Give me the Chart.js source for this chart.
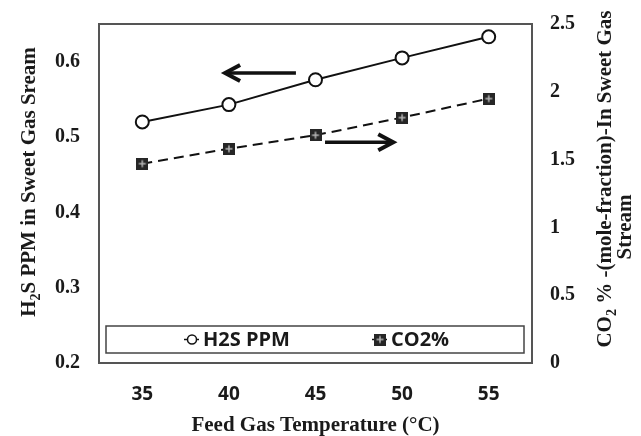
<!DOCTYPE html>
<html>
<head>
<meta charset="utf-8">
<script src="https://cdn.jsdelivr.net/npm/chart.js@4.4.1/dist/chart.umd.min.js"></script>
<style>
  html, body { margin: 0; padding: 0; background: #fff; }
  #wrap { width: 641px; height: 436px; }
</style>
</head>
<body>
<div id="wrap"><canvas id="grafico"></canvas></div>
<script>
// dados
const temperaturas = ['35', '40', '45', '50', '55'];
const h2sPpm = [0.520, 0.543, 0.576, 0.605, 0.633];
const co2Pct = [1.47, 1.58, 1.68, 1.81, 1.95];
const ticksH2s = [0.2, 0.3, 0.4, 0.5, 0.6];
const ticksCo2 = [0, 0.5, 1, 1.5, 2, 2.5];

// setas (temperatura, valor no eixo)
const setas = [
  { de: [43.87, 0.585], ate: [39.78, 0.585], eixo: 'y' },
  { de: [45.55, 1.628], ate: [49.49, 1.628], eixo: 'y1' }
];

const SERIF = '"Liberation Serif", "Times New Roman", serif';
const SANS = '"Open Sans", sans-serif';
const COR_TEXTO = '#1a1a1a';

function marcadorQuadrado() {
  const c = document.createElement('canvas');
  c.width = 12; c.height = 12;
  const g = c.getContext('2d');
  g.fillStyle = '#262626';
  g.fillRect(0, 0, 12, 12);
  g.strokeStyle = '#b5b5b5';
  g.lineWidth = 1.5;
  g.beginPath();
  g.moveTo(6, 2.5); g.lineTo(6, 9.5);
  g.moveTo(2.5, 6); g.lineTo(9.5, 6);
  g.stroke();
  return c;
}
const quadrado = marcadorQuadrado();

// texto com subscrito, centrado em (x, y)
function textoRico(ctx, partes, x, y, rot) {
  const fonte = sub => `bold ${sub ? 14 : 21}px ${SERIF}`;
  ctx.save();
  ctx.translate(x, y);
  ctx.rotate(rot);
  ctx.fillStyle = COR_TEXTO;
  ctx.textAlign = 'left';
  ctx.textBaseline = 'middle';
  let total = 0;
  partes.forEach(p => { ctx.font = fonte(p[1]); total += ctx.measureText(p[0]).width; });
  let cx = -total / 2;
  partes.forEach(p => {
    ctx.font = fonte(p[1]);
    ctx.fillText(p[0], cx, p[1] ? 6 : 0);
    cx += ctx.measureText(p[0]).width;
  });
  ctx.restore();
}

function seta(ctx, x1, y1, x2, y2) {
  const dir = Math.sign(x2 - x1);
  ctx.save();
  ctx.strokeStyle = '#111';
  ctx.lineWidth = 3.5;
  ctx.beginPath();
  ctx.moveTo(x1, y1);
  ctx.lineTo(x2 - dir * 2, y2);
  ctx.stroke();
  ctx.lineWidth = 4;
  ctx.lineJoin = 'miter';
  ctx.beginPath();
  ctx.moveTo(x2 - dir * 15, y2 - 8);
  ctx.lineTo(x2, y2);
  ctx.lineTo(x2 - dir * 15, y2 + 8);
  ctx.stroke();
  ctx.restore();
}

const moldura = {
  id: 'moldura',
  beforeDatasetsDraw(chart) {
    const { ctx, chartArea: a } = chart;
    ctx.save();
    ctx.strokeStyle = '#555';
    ctx.lineWidth = 2;
    ctx.strokeRect(a.left, a.top, a.right - a.left, a.bottom - a.top);

    // caixa da legenda
    const lx = a.left + 7, ly = a.bottom - 37, lw = a.right - a.left - 15, lh = 27;
    ctx.lineWidth = 1.5;
    ctx.strokeStyle = '#444';
    ctx.strokeRect(lx, ly, lw, lh);
    ctx.restore();
  },
  afterDraw(chart) {
    const { ctx, chartArea: a, scales } = chart;

    // setas
    setas.forEach(s => {
      const x1 = scales.x.getPixelForValue((s.de[0] - 35) / 5);
      const x2 = scales.x.getPixelForValue((s.ate[0] - 35) / 5);
      const y1 = scales[s.eixo].getPixelForValue(s.de[1]);
      const y2 = scales[s.eixo].getPixelForValue(s.ate[1]);
      seta(ctx, x1, y1, x2, y2);
    });

    // legenda
    const lx = a.left + 7, cy = a.bottom - 23.5;
    const offs = [86, 274];
    chart.data.datasets.forEach((ds, i) => {
      const sx = lx + offs[i];
      ctx.save();
      ctx.strokeStyle = '#111';
      ctx.lineWidth = 1.5;
      ctx.beginPath();
      ctx.moveTo(sx - 8, cy);
      ctx.lineTo(sx + 7, cy);
      ctx.stroke();
      if (ds.pointStyle === 'circle') {
        ctx.beginPath();
        ctx.arc(sx, cy, 4.5, 0, Math.PI * 2);
        ctx.fillStyle = '#fff';
        ctx.fill();
        ctx.stroke();
      } else {
        ctx.drawImage(ds.pointStyle, sx - 6, cy - 6);
      }
      ctx.fillStyle = COR_TEXTO;
      ctx.font = `bold 20px ${SANS}`;
      ctx.textAlign = 'left';
      ctx.textBaseline = 'middle';
      ctx.fillText(ds.label, sx + 11, cy + 1);
      ctx.restore();
    });

    // títulos dos eixos
    textoRico(ctx, [['Feed Gas Temperature (°C)', false]], (a.left + a.right) / 2, 426, 0);
    textoRico(ctx, [['H', false], ['2', true], ['S PPM in Sweet Gas Sream', false]], 30, 182, -Math.PI / 2);
    textoRico(ctx, [['CO', false], ['2', true], [' % -(mole-fraction)-In Sweet Gas', false]], 606, 179, -Math.PI / 2);
    textoRico(ctx, [['Stream', false]], 626, 227, -Math.PI / 2);
  }
};

const semGrade = { display: false, drawTicks: false };
const semBorda = { display: false };

function larguraFixa(w) {
  return s => { s.width = w; s.paddingTop = 0; s.paddingBottom = 0; };
}

new Chart(document.getElementById('grafico'), {
  type: 'line',
  data: {
    labels: temperaturas,
    datasets: [
      {
        label: 'H2S PPM',
        data: h2sPpm,
        yAxisID: 'y',
        borderColor: '#111',
        borderWidth: 2,
        pointStyle: 'circle',
        pointRadius: 6.5,
        pointBorderWidth: 2,
        pointBackgroundColor: '#fff',
        pointBorderColor: '#111',
        tension: 0
      },
      {
        label: 'CO2%',
        data: co2Pct,
        yAxisID: 'y1',
        borderColor: '#111',
        borderWidth: 2,
        borderDash: [10, 6],
        pointStyle: quadrado,
        pointRadius: 6,
        tension: 0
      }
    ]
  },
  options: {
    responsive: true,
    maintainAspectRatio: false,
    animation: false,
    layout: { padding: { top: 24, left: 0, right: 0, bottom: 0 } },
    plugins: { legend: { display: false }, tooltip: { enabled: false } },
    scales: {
      x: {
        offset: true,
        grid: semGrade,
        border: semBorda,
        ticks: { font: { family: SANS, size: 19, weight: 'bold' }, color: COR_TEXTO, padding: 20, maxRotation: 0 },
        afterFit: s => { s.height = 73; s.paddingLeft = 0; s.paddingRight = 0; }
      },
      y: {
        position: 'left',
        min: 0.2,
        max: 0.65,
        grid: semGrade,
        border: semBorda,
        ticks: { font: { family: SERIF, size: 20, weight: 'bold' }, color: COR_TEXTO, padding: 19, callback: v => v.toFixed(1) },
        afterBuildTicks: s => { s.ticks = ticksH2s.map(v => ({ value: v })); },
        afterFit: larguraFixa(99)
      },
      y1: {
        position: 'right',
        min: 0,
        max: 2.5,
        grid: semGrade,
        border: semBorda,
        ticks: { font: { family: SERIF, size: 20, weight: 'bold' }, color: COR_TEXTO, padding: 18, callback: v => String(v) },
        afterBuildTicks: s => { s.ticks = ticksCo2.map(v => ({ value: v })); },
        afterFit: larguraFixa(109)
      }
    }
  },
  plugins: [moldura]
});
</script>
</body>
</html>
